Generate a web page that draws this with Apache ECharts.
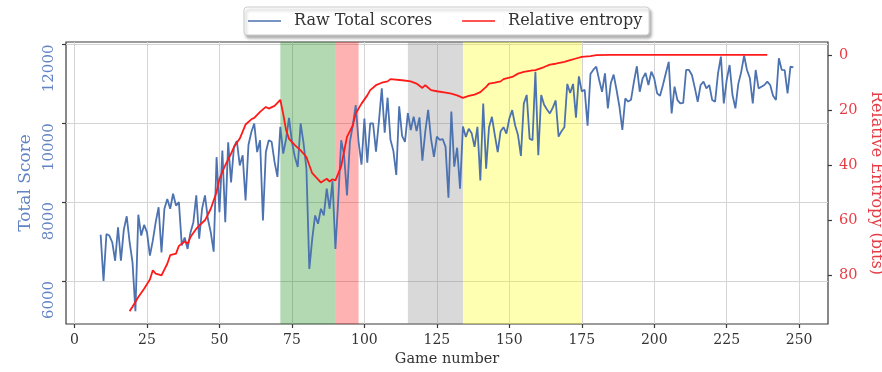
<!DOCTYPE html>
<html>
<head>
<meta charset="utf-8">
<script src="https://cdn.jsdelivr.net/npm/echarts@6/dist/echarts.min.js"></script>
<style>
  html, body { margin: 0; padding: 0; background: #ffffff; }
  #chart { width: 882px; height: 372px; }
</style>
</head>
<body>
<div id="chart"></div>
<script>
// Raw total score for every game, starting at game 9
const firstScoreGame = 9;
const totalScores = [
  7170, 6000, 7190, 7150, 6980, 6510, 7360, 6510, 7300, 7640,
  6980, 6470, 5230, 7680, 7150, 7420, 7230, 6640, 7020, 7490,
  7870, 6720, 7830, 8080, 7830, 8210, 7910, 8000, 6900, 7100,
  6810, 7230, 7490, 8170, 7070, 7830, 8170, 7570, 7230, 6740,
  9140, 7740, 9310, 7490, 9520, 8500, 9400, 9550, 8930, 9190,
  8040, 9450, 9780, 9995, 9270, 9570, 7530, 9270, 9570, 9530,
  9020, 8640, 9910, 9230, 9610, 10140, 9530, 9150, 8890, 9995,
  9500, 8850, 6300, 7065, 7660, 7450, 7830, 7660, 8340, 7830,
  8530, 6810, 8080, 9570, 9190, 8170, 9530, 9950, 10460, 9530,
  8950, 10120, 9000, 10000, 9995, 9280, 10040, 10890, 9760, 10650,
  9580, 9300, 8690, 10430, 9680, 9530, 10260, 9830, 10170, 9800,
  10150, 9050, 9780, 10340, 9600, 9150, 9660, 9580, 9600, 9400,
  8110, 10300, 8900, 9380, 8340, 9920, 9650, 9860, 9750, 9400,
  9910, 8550, 10500, 8850, 9900, 10165, 9700, 9270, 9800, 9900,
  9740, 10120, 10335, 9950, 9700, 9170, 10500, 10720, 9610, 9570,
  11310, 9190, 10720, 10470, 10350, 10250, 10400, 10580, 9660, 9800,
  9900, 11000, 10770, 11000, 10140, 11190, 10810, 10850, 9940, 11250,
  11360, 11440, 11100, 10800, 11270, 10380, 11015, 11236, 10845, 10420,
  9830, 10630, 10550, 10600, 11057, 11448, 10802, 11142, 11278, 10972,
  11312, 11142, 10760, 10700, 10972, 11270, 11560, 10250, 10930, 10590,
  10505, 10520, 11354, 11354, 11227, 10900, 10547, 10972, 11057, 10887,
  10972, 10590, 10547, 11269, 11694, 10505, 11100, 11481, 10717, 10380,
  11000, 11300, 11720, 11354, 11142, 10505, 11354, 10887, 10930, 10972,
  11057, 10972, 10700, 10590, 11651, 11354, 11350, 10760, 11439, 11420
];

// Relative entropy (bits) and the games it was measured at
const entropyGames = [
  19, 20, 22, 24, 26, 27, 28, 30, 32, 33, 35, 36, 38, 39, 40, 42, 43, 45, 47, 49,
  50, 52, 54, 55, 57, 59, 61, 62, 64, 66, 67, 69, 71, 72, 73, 74, 76, 78, 80, 81,
  82, 84, 85, 87, 88, 89, 90, 92, 93, 94, 96, 97, 99, 101, 102, 104, 106, 108, 109, 113,
  116, 118, 120, 121, 123, 125, 128, 130, 132, 134, 136, 138, 140, 142, 143, 145, 147, 148, 151, 153,
  155, 158, 159, 162, 164, 166, 169, 171, 173, 175, 178, 180, 185, 200, 220, 239
];
const entropyBits = [
  93.2, 91.5, 88.0, 85.0, 81.6, 78.3, 79.5, 80.1, 75.9, 72.8, 72.2, 69.4, 67.8, 68.6, 66.2, 63.2, 62.0, 60.1, 55.9, 49.8,
  45.0, 40.1, 35.9, 33.5, 30.4, 25.3, 23.4, 22.9, 20.7, 18.9, 19.5, 18.5, 16.3, 21.5, 27.4, 30.5, 32.8, 34.7, 37.1, 40.1,
  43.0, 45.2, 46.4, 45.0, 46.0, 45.2, 45.6, 40.5, 35.0, 29.8, 25.6, 21.3, 17.7, 14.7, 12.8, 11.0, 10.1, 9.6, 8.8, 9.2,
  9.6, 10.4, 12.0, 11.0, 12.8, 13.2, 13.7, 14.1, 14.7, 15.6, 14.9, 14.4, 13.5, 11.6, 10.4, 10.1, 9.6, 8.8, 8.0, 6.8,
  6.2, 5.6, 5.5, 4.4, 3.5, 3.2, 2.5, 1.9, 1.3, 0.7, 0.4, 0.1, 0.0, 0.0, 0.0, 0.0
];

// Shaded game ranges [start, end]
const phaseSpans = [[71, 90], [90, 98], [115, 134], [134, 175]];

// Tick labels
const gameTicks = [0, 25, 50, 75, 100, 125, 150, 175, 200, 225, 250];
const scoreTicks = [6000, 8000, 10000, 12000];
const entropyTicks = [0, 20, 40, 60, 80];

const FONT = 'DejaVu Serif';
const BLUE = '#4c72b0';
const RED = '#ff1a1a';
const BLUE_TEXT = '#6283c4';
const RED_TEXT = '#e63c44';
const FRAME = '#3a3a3a';
const GRID = '#d4d4d4';
const spanFills = [
  'rgba(0,128,0,0.3)',
  'rgba(255,0,0,0.3)',
  'rgba(128,128,128,0.3)',
  'rgba(255,255,0,0.3)'
];

const scoreData = totalScores.map((v, i) => [firstScoreGame + i, v]);
const entropyData = entropyGames.map((g, i) => [g, entropyBits[i]]);
const plain = v => String(v);

// legend swatch: a short line followed by empty space before the text
const swatch = 'path://M0,5.2H33V6.8H0Z M41,0L41,12L40.95,12Z';

const chart = echarts.init(document.getElementById('chart'), null, { renderer: 'canvas' });

chart.setOption({
  animation: false,
  backgroundColor: '#ffffff',
  grid: {
    left: 66, top: 42, width: 762, height: 282,
    outerBoundsMode: 'none', containLabel: false,
    show: true, borderColor: FRAME, borderWidth: 1.2, backgroundColor: 'transparent'
  },
  legend: {
    left: 244, top: 7,
    padding: [6, 7, 6, 4],
    itemGap: 30, itemWidth: 41, itemHeight: 12,
    backgroundColor: '#ffffff', borderColor: '#cccccc', borderWidth: 1, borderRadius: 3,
    shadowColor: 'rgba(0,0,0,0.3)', shadowBlur: 3, shadowOffsetX: 2, shadowOffsetY: 3,
    textStyle: { fontFamily: FONT, fontSize: 16, color: '#333333' },
    data: [
      { name: 'Raw Total scores', icon: swatch },
      { name: 'Relative entropy', icon: swatch }
    ]
  },
  xAxis: {
    type: 'value',
    min: -2.95, max: 259.95,
    minInterval: 25, maxInterval: 25,
    axisLine: { show: false, onZero: false },
    axisTick: { show: true, length: 4, customValues: gameTicks, lineStyle: { color: FRAME, width: 1.2 } },
    axisLabel: { customValues: gameTicks, formatter: plain, margin: 9, fontFamily: FONT, fontSize: 14, color: '#333333' },
    splitLine: { show: true, lineStyle: { color: GRID, width: 1 } },
    name: 'Game number', nameLocation: 'middle', nameGap: 28,
    nameTextStyle: { fontFamily: FONT, fontSize: 14.5, color: '#333333' }
  },
  yAxis: [
    {
      type: 'value', position: 'left',
      min: 4904, max: 12064,
      minInterval: 2000, maxInterval: 2000,
      axisLine: { show: false, onZero: false },
      axisTick: { show: true, length: 4, customValues: scoreTicks, lineStyle: { color: FRAME, width: 1.2 } },
      axisLabel: {
        customValues: scoreTicks, formatter: plain, rotate: 90, align: 'right', verticalAlign: 'bottom',
        margin: 9, fontFamily: FONT, fontSize: 15, color: BLUE_TEXT
      },
      splitLine: { show: true, lineStyle: { color: GRID, width: 1 } },
      name: 'Total Score', nameLocation: 'middle', nameGap: 30, nameRotate: 90,
      nameTextStyle: { fontFamily: FONT, fontSize: 17, color: BLUE_TEXT }
    },
    {
      type: 'value', position: 'right', inverse: true,
      min: -4.7, max: 97.8,
      minInterval: 20, maxInterval: 20,
      axisLine: { show: false, onZero: false },
      axisTick: { show: true, length: 4, customValues: entropyTicks, lineStyle: { color: FRAME, width: 1.2 } },
      axisLabel: { customValues: entropyTicks, formatter: plain, margin: 11, fontFamily: FONT, fontSize: 14.5, color: RED_TEXT },
      splitLine: { show: false },
      name: 'Relative Entropy (bits)', nameLocation: 'middle', nameGap: 34, nameRotate: -90,
      nameTextStyle: { fontFamily: FONT, fontSize: 16, color: RED_TEXT }
    }
  ],
  series: [
    {
      name: 'Raw Total scores',
      type: 'line',
      xAxisIndex: 0, yAxisIndex: 0,
      data: scoreData,
      symbol: 'none',
      itemStyle: { color: BLUE },
      lineStyle: { color: BLUE, width: 1.8 },
      z: 3,
      markArea: {
        silent: true,
        data: phaseSpans.map((s, i) => [
          { xAxis: s[0], itemStyle: { color: spanFills[i] } },
          { xAxis: s[1] }
        ])
      }
    },
    {
      name: 'Relative entropy',
      type: 'line',
      xAxisIndex: 0, yAxisIndex: 1,
      data: entropyData,
      symbol: 'none',
      itemStyle: { color: RED },
      lineStyle: { color: RED, width: 1.8 },
      z: 4
    }
  ]
});
</script>
</body>
</html>
